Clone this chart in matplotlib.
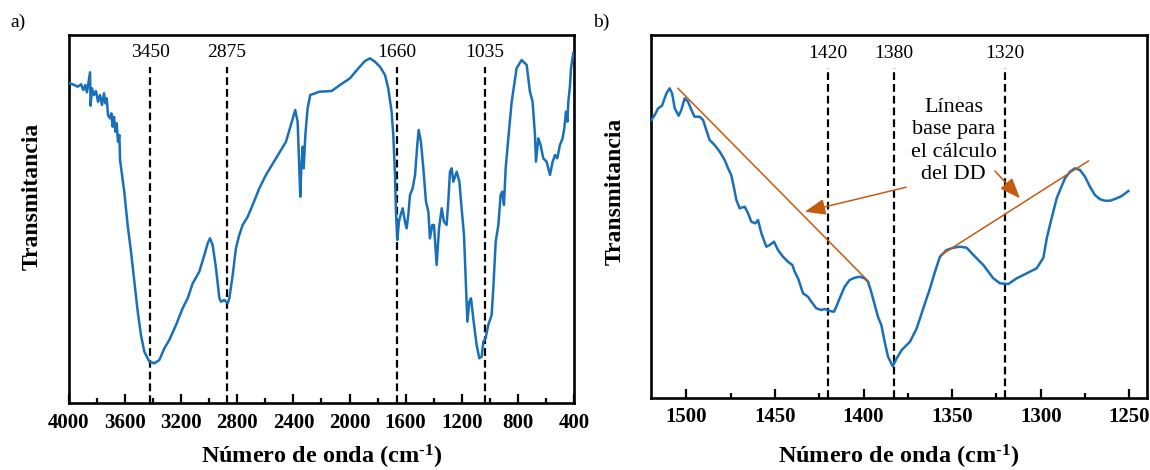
import matplotlib
matplotlib.use("Agg")
import matplotlib.pyplot as plt
from matplotlib.ticker import MultipleLocator, NullLocator

plt.rcParams['font.family'] = ['Liberation Serif', 'DejaVu Serif']
plt.rcParams['mathtext.fontset'] = 'custom'
plt.rcParams['mathtext.rm'] = 'Liberation Serif:bold'
plt.rcParams['mathtext.it'] = 'Liberation Serif:bold:italic'
plt.rcParams['mathtext.bf'] = 'Liberation Serif:bold'
plt.rcParams['mathtext.default'] = 'rm'

# ---------------- data: panel a) full FTIR spectrum ----------------
wn_a = [3993, 3962, 3938, 3914, 3898, 3884, 3872, 3860, 3850, 3846, 3836, 3822,
        3808, 3793, 3779, 3765, 3750, 3741, 3731, 3722, 3708, 3698, 3689, 3679,
        3670, 3660, 3651, 3641, 3636, 3606, 3582, 3558, 3534, 3510, 3487, 3463,
        3427, 3392, 3356, 3320, 3285, 3237, 3190, 3154, 3118, 3071, 3035, 3011,
        2995, 2976, 2952, 2928, 2916, 2893, 2869, 2857, 2833, 2810, 2786, 2762,
        2726, 2691, 2643, 2596, 2524, 2453, 2387, 2370, 2358, 2351, 2344, 2334,
        2327, 2315, 2299, 2280, 2215, 2128, 2068, 1997, 1937, 1890, 1854, 1819,
        1783, 1747, 1724, 1700, 1688, 1676, 1669, 1659, 1648, 1636, 1621, 1605,
        1593, 1581, 1569, 1550, 1533, 1517, 1507, 1491, 1474, 1455, 1438, 1427,
        1410, 1398, 1379, 1362, 1343, 1327, 1308, 1296, 1284, 1272, 1260, 1236,
        1217, 1201, 1184, 1170, 1160, 1146, 1134, 1118, 1094, 1075, 1058, 1046,
        1030, 1011, 987, 975, 958, 939, 923, 911, 899, 887, 868, 844, 809, 773,
        737, 714, 695, 678, 671, 654, 638, 619, 595, 571, 552, 535, 519, 500,
        481, 469, 457, 447, 440, 428, 421, 405]
t_a = [319.7, 318.0, 316.3, 318.7, 313.0, 318.0, 310.7, 321.3, 330.7, 297.3, 314.7, 308.0,
       312.0, 301.3, 308.0, 298.0, 309.7, 299.7, 304.7, 288.0, 284.7, 289.7, 276.3, 286.3,
       271.3, 279.7, 261.3, 268.0, 243.0, 211.3, 178.0, 151.3, 121.3, 91.3, 68.0, 51.3,
       41.3, 39.7, 43.0, 54.7, 63.0, 78.0, 94.7, 104.7, 119.7, 131.3, 148.0, 159.7,
       164.7, 158.0, 134.7, 104.7, 101.3, 103.0, 99.7, 104.7, 128.0, 154.7, 168.0, 178.0,
       186.3, 198.0, 214.7, 228.0, 244.7, 261.3, 293.0, 281.3, 234.7, 206.3, 234.7, 256.3,
       234.7, 268.0, 294.7, 308.0, 311.3, 312.0, 318.0, 324.7, 334.7, 342.0, 344.7, 341.3,
       336.3, 328.0, 314.7, 291.3, 268.0, 228.0, 191.3, 163.0, 181.3, 188.0, 194.7, 181.3,
       174.7, 188.0, 208.0, 214.7, 228.0, 258.0, 273.0, 261.3, 234.7, 201.3, 191.3, 164.7,
       178.0, 178.0, 138.0, 174.7, 194.7, 181.3, 178.0, 201.3, 231.3, 234.7, 221.3, 231.3,
       221.3, 194.7, 168.0, 118.0, 81.3, 101.3, 104.7, 84.7, 58.0, 44.7, 46.3, 61.3,
       64.7, 78.0, 88.0, 114.7, 161.3, 178.0, 208.0, 211.3, 198.0, 234.7, 264.7, 301.3, 334.7, 343.0,
       338.0, 311.3, 301.3, 268.0, 241.3, 264.7, 258.0, 244.7, 241.3, 228.0, 241.3, 248.0, 244.7, 258.0,
       264.7, 274.7, 291.3, 281.3, 301.3, 318.0, 334.7, 350.0]

marks_a = [3420, 2875, 1660, 1035]
marks_a_labels = ['3450', '2875', '1660', '1035']

# ---------------- data: panel b) 1520-1250 cm-1 zoom ----------------
wn_b = [1519.8, 1517.9, 1516.0, 1513.8, 1511.3, 1509.5, 1508.1, 1506.6, 1504.4, 1502.9,
        1501.0, 1499.1, 1497.2, 1495.4, 1492.5, 1490.6, 1488.8, 1486.9, 1484.1, 1481.2,
        1478.4, 1476.5, 1474.7, 1473.1, 1471.8, 1470.0, 1467.1, 1465.2, 1463.4, 1461.1,
        1459.6, 1457.7, 1454.9, 1453.0, 1450.6, 1448.3, 1445.5, 1442.7, 1440.2, 1438.9,
        1437.0, 1434.2, 1431.4, 1429.5, 1426.7, 1423.8, 1422.0, 1419.1, 1416.7, 1415.4,
        1413.5, 1410.7, 1407.9, 1405.0, 1402.2, 1399.4, 1397.5, 1396.0, 1394.7, 1391.9,
        1390.0, 1388.1, 1386.2, 1383.6, 1381.3, 1378.5, 1373.8, 1370.0, 1366.3, 1362.5,
        1359.7, 1356.9, 1353.1, 1349.3, 1345.6, 1341.8, 1338.0, 1332.4, 1326.8, 1323.0,
        1318.3, 1313.6, 1307.9, 1302.3, 1298.5, 1296.6, 1294.8, 1292.9, 1291.0, 1288.7,
        1286.3, 1283.5, 1280.7, 1277.8, 1275.0, 1272.2, 1269.4, 1266.5, 1263.7, 1260.9,
        1258.1, 1254.3, 1250.5]
t_b = [277.7, 282.7, 289.4, 292.0, 304.4, 309.4, 304.4, 289.4, 282.0, 287.7,
       299.4, 296.0, 287.7, 281.0, 281.0, 277.7, 267.7, 257.7, 252.7, 246.0,
       237.7, 229.4, 222.7, 209.4, 197.7, 189.4, 191.0, 184.4, 176.0, 174.4,
       177.7, 164.4, 151.0, 152.7, 156.0, 147.7, 141.0, 136.0, 132.7, 126.0,
       119.4, 104.4, 101.0, 96.0, 89.4, 87.7, 88.7, 86.7, 86.0, 91.0,
       99.4, 111.0, 117.7, 120.0, 121.0, 119.4, 116.0, 107.7, 99.4, 81.0,
       72.7, 56.0, 41.0, 31.5, 39.4, 47.7, 56.0, 69.4, 89.4, 109.4,
       126.0, 141.0, 147.7, 150.0, 151.0, 150.0, 142.7, 132.7, 119.4, 114.4,
       113.7, 119.4, 124.4, 129.4, 140.0, 159.4, 172.7, 186.0, 199.4, 209.4,
       219.4, 226.0, 229.4, 227.7, 221.0, 211.0, 202.7, 198.4, 197.0, 197.0,
       198.7, 201.7, 206.7]

marks_b = [1420, 1383, 1320]
marks_b_labels = ['1420', '1380', '1320']

# baselines (x pairs, y pairs)
base1_x = [1504.8, 1397.1]
base1_y = [309.4, 116.0]
base2_x = [1356.3, 1273.1]
base2_y = [142.7, 236.7]

note_text = 'Líneas\nbase para\nel cálculo\ndel DD'
xlabel_text = 'Número de onda (cm$^{\u2010 1}$)'

# ---------------- styling ----------------
BLUE = '#1a70b8'
ORANGE = '#c55a11'

fig = plt.figure(figsize=(11.5, 4.7), dpi=100)
axA = fig.add_axes([0.0600, 0.1426, 0.4391, 0.7829])
axB = fig.add_axes([0.5661, 0.1538, 0.4313, 0.7717])


def style_axis(ax):
    for s in ax.spines.values():
        s.set_linewidth(1.9)
        s.set_color('black')
    ax.yaxis.set_major_locator(NullLocator())
    ax.tick_params(axis='x', which='both', direction='in', top=False,
                   labelsize=15, width=1.6)
    ax.tick_params(axis='x', which='major', length=6.5, pad=7)
    ax.tick_params(axis='x', which='minor', length=3.5)
    for lab in ax.get_xticklabels():
        lab.set_fontweight('bold')


# ---- panel a
axA.plot(wn_a, t_a, color=BLUE, lw=1.8, zorder=3)
axA.set_xlim(4000, 400)
axA.set_ylim(0, 368)
axA.xaxis.set_major_locator(MultipleLocator(400))
axA.xaxis.set_minor_locator(MultipleLocator(200))
style_axis(axA)
axA.vlines(marks_a, 0, 336, colors='black', linestyles=(0, (3.5, 1.8)), lw=1.6, zorder=2)
for xm, lab in zip(marks_a, marks_a_labels):
    axA.text(xm, 351, lab, ha='center', va='center', fontsize=14)
axA.set_xlabel(xlabel_text, fontsize=17.5, fontweight='bold', labelpad=7)
axA.set_ylabel('Transmitancia', fontsize=17, fontweight='bold')
axA.yaxis.set_label_coords(-0.052, 0.5625)

# ---- panel b
axB.plot(wn_b, t_b, color=BLUE, lw=1.8, zorder=3)
axB.set_xlim(1520, 1240)
axB.set_ylim(0, 362.7)
axB.xaxis.set_major_locator(MultipleLocator(50))
axB.xaxis.set_minor_locator(MultipleLocator(25))
style_axis(axB)
axB.vlines(marks_b, 0, 330, colors='black', linestyles=(0, (3.5, 1.8)), lw=1.6, zorder=2)
for xm, lab in zip(marks_b, marks_b_labels):
    axB.text(xm, 344.4, lab, ha='center', va='center', fontsize=14)
axB.plot(base1_x, base1_y, color=ORANGE, lw=1.1, zorder=4)
axB.plot(base2_x, base2_y, color=ORANGE, lw=1.1, zorder=4)
axB.text(1349.1, 256.7, note_text, ha='center', va='center', multialignment='center',
         fontsize=16, linespacing=1.22)
arrow_kw = dict(arrowstyle='-|>,head_length=0.9,head_width=0.35', color=ORANGE,
                lw=1.1, mutation_scale=14, shrinkA=0, shrinkB=0)
axB.annotate('', xy=(1433.2, 186.0), xytext=(1376.0, 210.5), arrowprops=arrow_kw)
axB.annotate('', xy=(1311.7, 199.4), xytext=(1325.8, 226.7), arrowprops=arrow_kw)
axB.set_xlabel(xlabel_text, fontsize=17.5, fontweight='bold', labelpad=11)
axB.set_ylabel('Transmitancia', fontsize=17, fontweight='bold')
axB.yaxis.set_label_coords(-0.052, 0.570)

fig.text(10 / 1150, 1 - 22 / 470, 'a)', fontsize=14, ha='left', va='center')
fig.text(593 / 1150, 1 - 22 / 470, 'b)', fontsize=14, ha='left', va='center')

fig.savefig('out.png', dpi=100)
